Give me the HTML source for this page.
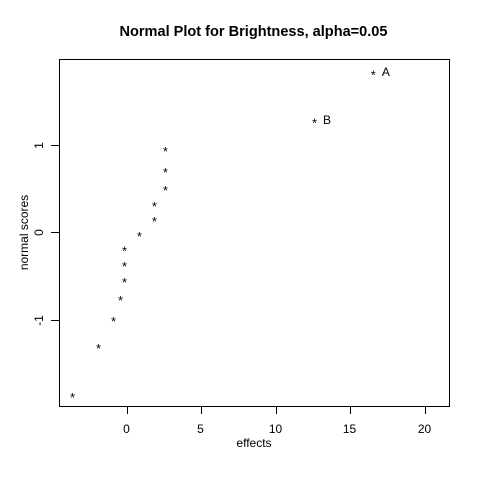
<!DOCTYPE html>
<html>
<head>
<meta charset="utf-8">
<title>Normal Plot for Brightness</title>
<style>
html,body{margin:0;padding:0;background:#fff;width:480px;height:480px;overflow:hidden}
svg{display:block}
text{font-family:"Liberation Sans",Arial,sans-serif;fill:#000}
</style>
</head>
<body>
<svg id="chart" xmlns="http://www.w3.org/2000/svg" width="480" height="480" viewBox="0 0 480 480" shape-rendering="crispEdges">
<rect x="0" y="0" width="480" height="480" fill="#fff"/>
<text x="253.5" y="36" text-anchor="middle" font-size="14.55" font-weight="bold">Normal Plot for Brightness, alpha=0.05</text>
<rect x="59.5" y="59.5" width="390" height="347" fill="none" stroke="#000" stroke-width="1"/>
<text x="254" y="447" text-anchor="middle" font-size="12">effects</text>
<text transform="translate(28,232.5) rotate(-90)" text-anchor="middle" font-size="12">normal scores</text>
<g id="axes"></g>
<g id="points"></g>
</svg>
<script>
const xTicks = [0, 5, 10, 15, 20];
const yTicks = [-1, 0, 1];
const effects = [16.52, 12.57, 2.55, 2.55, 2.55, 1.81, 1.81, 0.8, -0.2, -0.2, -0.2, -0.47, -0.94, -1.95, -3.69];
const normalScores = [1.823, 1.274, 0.949, 0.709, 0.503, 0.32, 0.149, -0.023, -0.189, -0.366, -0.549, -0.754, -0.994, -1.303, -1.863];
const pointLabels = ["A", "B", "", "", "", "", "", "", "", "", "", "", "", "", ""];

const SVG_NS = "http://www.w3.org/2000/svg";
function xScale(v) { return 127.5 + v * 14.88; }
function yScale(v) { return 232.5 - v * 87.5; }
function snap(p) { return Math.floor(p) + 0.5; }

const axes = document.getElementById("axes");
const points = document.getElementById("points");

xTicks.forEach(function (t) {
  const x = snap(xScale(t));
  const tick = document.createElementNS(SVG_NS, "line");
  
  
  tick.setAttribute("x1", x);
  tick.setAttribute("x2", x);
  tick.setAttribute("y1", 406.5);
  tick.setAttribute("y2", 414);
  tick.setAttribute("stroke", "#000");
  axes.appendChild(tick);
  const label = document.createElementNS(SVG_NS, "text");
  
  
  label.setAttribute("x", x - 1);
  label.setAttribute("y", 433);
  label.setAttribute("text-anchor", "middle");
  label.setAttribute("font-size", "12");
  label.textContent = String(t);
  axes.appendChild(label);
});

yTicks.forEach(function (t) {
  const y = snap(yScale(t));
  const tick = document.createElementNS(SVG_NS, "line");
  
  
  tick.setAttribute("x1", 51);
  tick.setAttribute("x2", 59.5);
  tick.setAttribute("y1", y);
  tick.setAttribute("y2", y);
  tick.setAttribute("stroke", "#000");
  axes.appendChild(tick);
  const label = document.createElementNS(SVG_NS, "text");
  
  
  label.setAttribute("transform", "translate(43," + y + ") rotate(-90)");
  label.setAttribute("text-anchor", "middle");
  label.setAttribute("font-size", "12");
  label.textContent = String(t);
  axes.appendChild(label);
});

effects.forEach(function (e, i) {
  const px = xScale(e);
  const py = yScale(normalScores[i]);
  const star = document.createElementNS(SVG_NS, "text");
  
  
  star.setAttribute("x", px);
  star.setAttribute("y", py + 6.5);
  star.setAttribute("text-anchor", "middle");
  star.setAttribute("font-size", "13");
  star.textContent = "*";
  points.appendChild(star);
  if (pointLabels[i]) {
    const lab = document.createElementNS(SVG_NS, "text");
    
    
    lab.setAttribute("x", px + 8.5);
    lab.setAttribute("y", py + 3);
    lab.setAttribute("font-size", "12");
    lab.textContent = pointLabels[i];
    points.appendChild(lab);
  }
});
</script>
</body>
</html>
